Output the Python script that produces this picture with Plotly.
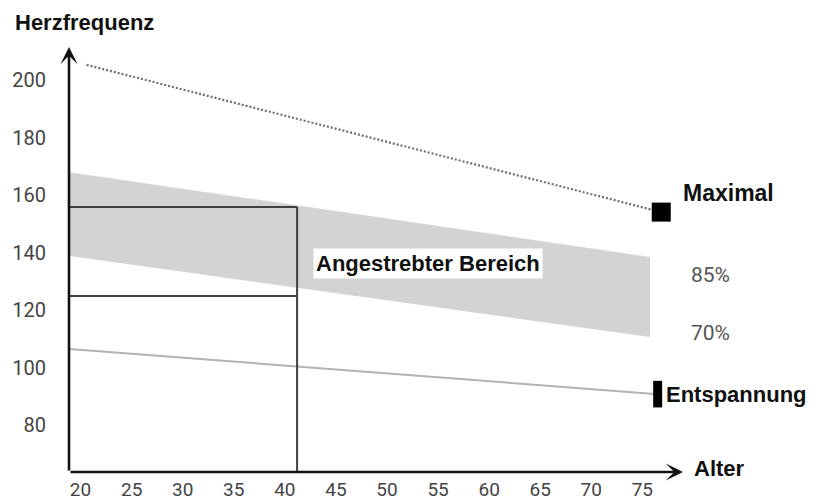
import plotly.graph_objects as go

# ---- data ----
x_ticks = [20, 25, 30, 35, 40, 45, 50, 55, 60, 65, 70, 75]
y_ticks = [80, 100, 120, 140, 160, 180, 200]

max_age = [20.6, 76.85]
max_hr = [205.3, 154.1]

band_age = [18.9, 75.75]
band_85 = [168.0, 138.5]
band_70 = [138.8, 110.7]

relax_age = [18.9, 76.5]
relax_hr = [106.5, 90.8]

target_age = 41.2
target_hr = [124.9, 155.9]

x_range = [18.87, 78.98]
y_range = [63.72, 211.52]

label_font = "Liberation Sans, Arial, sans-serif"
narrow_font = "Roboto, sans-serif"

fig = go.Figure()

# shaded target band (70% .. 85%)
fig.add_trace(go.Scatter(
    x=band_age + band_age[::-1],
    y=band_85 + band_70[::-1],
    fill="toself", fillcolor="#d3d3d3",
    line=dict(width=0), mode="lines", hoverinfo="skip",
))

# relaxation line
fig.add_trace(go.Scatter(
    x=relax_age, y=relax_hr, mode="lines",
    line=dict(color="#b3b3b3", width=2), hoverinfo="skip",
))

# target box for age 40
x0 = x_range[0]
fig.add_trace(go.Scatter(
    x=[x0, target_age, None, x0, target_age, None, target_age, target_age],
    y=[target_hr[1], target_hr[1], None, target_hr[0], target_hr[0], None, y_range[0], target_hr[1]],
    mode="lines", line=dict(color="#404040", width=2), hoverinfo="skip",
))

# maximal heart rate (dotted)
fig.add_trace(go.Scatter(
    x=max_age, y=max_hr, mode="lines",
    line=dict(color="#6e6e6e", width=2.2, dash="2px,2px"), hoverinfo="skip",
))

# end markers
fig.add_trace(go.Scatter(
    x=[max_age[-1]], y=[max_hr[-1]], mode="markers",
    marker=dict(symbol="square", size=19, color="black"),
    cliponaxis=False, hoverinfo="skip",
))
fig.add_trace(go.Scatter(
    x=[relax_age[-1]], y=[relax_hr[-1]], mode="markers",
    marker=dict(symbol="line-ns", size=19, line=dict(color="black", width=9)),
    cliponaxis=False, hoverinfo="skip",
))

ann = []
# axes with arrows (paper anchored, pixel offsets)
ann.append(dict(x=1, y=0, xref="paper", yref="paper", ax=-614, ay=0,
                axref="pixel", ayref="pixel", text="", showarrow=True,
                arrowhead=3, arrowsize=1.1, arrowwidth=2.6, arrowcolor="#111111"))
ann.append(dict(x=0, y=1, xref="paper", yref="paper", ax=0, ay=425,
                axref="pixel", ayref="pixel", text="", showarrow=True,
                arrowhead=3, arrowsize=1.1, arrowwidth=2.6, arrowcolor="#111111"))

def bold_label(text, x, y, size, xanchor="left"):
    return dict(x=x, y=y, xref="paper", yref="paper", text="<b>%s</b>" % text,
                showarrow=False, xanchor=xanchor, yanchor="middle",
                font=dict(family=label_font, size=size, color="#111111"))

ann.append(bold_label("Herzfrequenz", -0.0912, 1.0565, 22))
ann.append(bold_label("Alter", 1.0147, 0.0094, 22))
ann.append(bold_label("Maximal", 0.9967, 0.6565, 23))
ann.append(bold_label("Entspannung", 0.969, 0.1835, 22))

for txt, yp in [("85%", 0.4635), ("70%", 0.327)]:
    ann.append(dict(x=1.0098, y=yp, xref="paper", yref="paper", text=txt,
                    showarrow=False, xanchor="left", yanchor="middle",
                    font=dict(family=narrow_font, size=21, color="#555555")))

ann.append(dict(x=54.0, y=136.1, xref="x", yref="y",
                text="<b>Angestrebter Bereich</b>", showarrow=False,
                xanchor="center", yanchor="middle", bgcolor="white", borderpad=2,
                font=dict(family=label_font, size=22, color="#111111")))

# page body has an 8px margin, so the figure is 812x496 and offsets are reduced by 8px
fig.update_layout(
    width=812, height=496,
    margin=dict(l=61, r=137, t=39, b=32, autoexpand=False),
    paper_bgcolor="white", plot_bgcolor="white",
    showlegend=False,
    annotations=ann,
    xaxis=dict(range=x_range, tickvals=x_ticks, ticktext=[str(v) for v in x_ticks],
               showgrid=False, zeroline=False, showline=False, ticks="",
               automargin=False, ticklabelstandoff=4,
               tickfont=dict(family=narrow_font, size=19, color="#444444")),
    yaxis=dict(range=y_range, tickvals=y_ticks, ticktext=[str(v) for v in y_ticks],
               showgrid=False, zeroline=False, showline=False, ticks="",
               automargin=False, ticklabelstandoff=22,
               tickfont=dict(family=narrow_font, size=20, color="#444444")),
)

fig.write_html("out.html")
